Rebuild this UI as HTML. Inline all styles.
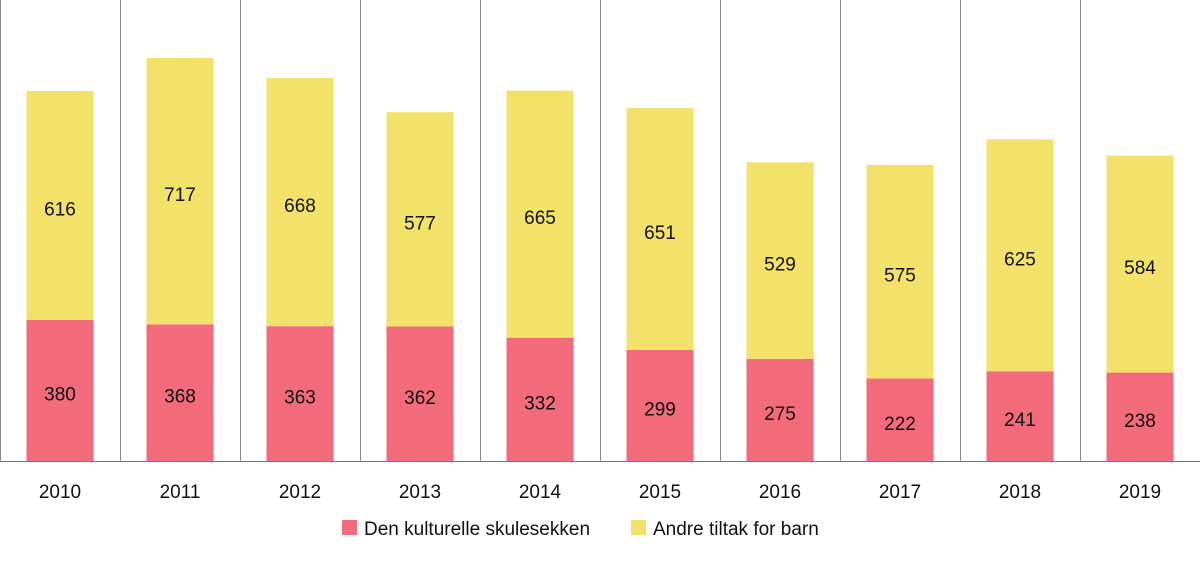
<!DOCTYPE html>
<html><head><meta charset="utf-8"><style>
body{margin:0;background:#fff;font-family:"Liberation Sans",sans-serif}
</style></head><body>
<svg id="c" width="1200" height="558" xmlns="http://www.w3.org/2000/svg"></svg>
<script>
const years=["2010","2011","2012","2013","2014","2015","2016","2017","2018","2019"];
const skulesekken=[380,368,363,362,332,299,275,222,241,238];
const andre=[616,717,668,577,665,651,529,575,625,584];
const svg=document.getElementById('c');
const NS='http://www.w3.org/2000/svg';
const base=461, k=0.3715, band=120, bw=67;
const y=v=>base-v*k;
const x=i=>i*band;
function mk(t,a){const e=document.createElementNS(NS,t);for(const n in a)e.setAttribute(n,a[n]);svg.appendChild(e);return e;}
for(let i=0;i<=years.length;i++){
  const l=mk('line',{x1:x(i)+0.5,x2:x(i)+0.5,y1:0,y2:base,stroke:'#8a8a8a','stroke-width':1});
  
  
}
years.forEach((yr,i)=>{
  const cx=x(i)+band/2;
  const a=skulesekken[i], b=andre[i];
  const r1=mk('rect',{x:cx-bw/2,y:y(a),width:bw,height:a*k,fill:'#f26b7a'});
  
  
  const r2=mk('rect',{x:cx-bw/2,y:y(a+b),width:bw,height:b*k,fill:'#f2e26a'});
  
  
  const t1=mk('text',{x:cx,y:(y(a)+base)/2+10,'text-anchor':'middle','font-size':19,fill:'#111'});
  t1.textContent=a;
  
  
  const t2=mk('text',{x:cx,y:(y(a)+y(a+b))/2+10,'text-anchor':'middle','font-size':19,fill:'#111'});
  t2.textContent=b;
  
  
  const t3=mk('text',{x:cx,y:498,'text-anchor':'middle','font-size':19,fill:'#111'});
  t3.textContent=yr;
  
  
});
const bl=mk('line',{x1:0,x2:1200,y1:base+0.5,y2:base+0.5,stroke:'#777','stroke-width':1});


const lg=[['#f26b7a','Den kulturelle skulesekken',342],['#f2e26a','Andre tiltak for barn',631]];
lg.forEach(([c,t,lx])=>{
  const s=mk('rect',{x:lx,y:520,width:15,height:15,fill:c});
  
  
  const tx=mk('text',{x:lx+22,y:535,'font-size':19,fill:'#111'});
  tx.textContent=t;
  
  
});
</script>
</body></html>
